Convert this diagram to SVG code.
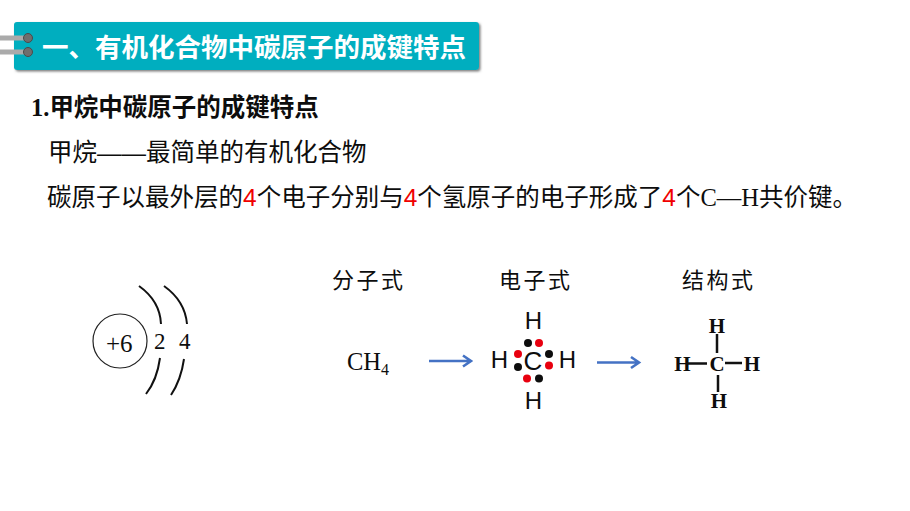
<svg xmlns="http://www.w3.org/2000/svg" width="910" height="511" viewBox="0 0 910 511">
<style>
.s{font-family:"Liberation Sans","Noto Sans CJK SC",sans-serif;fill:#0d0d0d}
.n{font-family:"Liberation Serif","Noto Sans CJK SC",serif;fill:#0d0d0d}
.r{fill:#f00000}
.b{font-weight:700}
.k{stroke:#111;fill:none;stroke-width:2}
.k2{stroke:#111;fill:none;stroke-width:2.5}
.ar{stroke:#4472c4;stroke-width:2.600;fill:none}
</style>
<defs><filter id="sh" x="-2%" y="-10%" width="104%" height="125%"><feDropShadow dx="1.500" dy="1.500" stdDeviation="1.200" flood-color="#666" flood-opacity=".85"/></filter></defs>
<g id="banner">
<rect x="14" y="22" width="465" height="48" rx="3" fill="#00aebf" filter="url(#sh)"/>
<path d="M0 38H28M0 52H28" stroke="#aaa" stroke-width="5" fill="none"/>
<circle cx="28" cy="38" r="4.500" fill="#6e6e6e" stroke="#4a4a4a" stroke-width="1"/>
<circle cx="28" cy="52" r="4.500" fill="#6e6e6e" stroke="#4a4a4a" stroke-width="1"/>
<text x="42" y="57" font-size="26.500" font-weight="700" fill="#fff" font-family="'Noto Sans CJK SC',sans-serif">一、有机化合物中碳原子的成键特点</text>
</g>
<g id="heading"><text x="31" y="116" font-size="24.500" class="n b">1.<tspan class="s b">甲烷中碳原子的成键特点</tspan></text></g>
<g id="line1"><text x="48" y="161" font-size="24.500" class="s">甲烷——最简单的有机化合物</text></g>
<g id="line2"><text x="47" y="206" font-size="24.500" class="s">碳原子以最外层的<tspan class="r">4</tspan>个电子分别与<tspan class="r">4</tspan>个氢原子的电子形成了<tspan class="r">4</tspan>个<tspan class="n">C—H</tspan>共价键。</text></g>
<g id="atom">
<circle cx="120" cy="341" r="27" fill="none" stroke="#222" stroke-width="1.200"/>
<text x="106" y="352" font-size="25" class="n">+6</text>
<text x="154" y="349" font-size="23" class="n">2</text>
<text x="179" y="349" font-size="23" class="n">4</text>
<path class="k" d="M139 286Q160 301 161 324M164 286Q185 301 187 324M160 358Q157 380 146 394M184 359Q181 380 171 395"/>
</g>
<g id="labels">
<text x="332" y="288" font-size="22" letter-spacing="2.500" class="s">分子式</text>
<text x="499" y="288" font-size="22" letter-spacing="2.500" class="s">电子式</text>
<text x="682" y="288" font-size="22" letter-spacing="2.500" class="s">结构式</text>
</g>
<g id="ch4"><text x="347" y="370" font-size="24.500" class="n">CH<tspan font-size="16" dy="5">4</tspan></text></g>
<g id="electron">
<g class="s" font-size="24" text-anchor="middle"><text x="533.500" y="329">H</text><text x="499.500" y="368">H</text><text x="567.500" y="368">H</text><text x="533.500" y="409">H</text><text x="533" y="370" font-size="26">C</text></g>
<g fill="#0d0d0d"><circle cx="528" cy="343" r="4"/><circle cx="549" cy="354" r="4"/><circle cx="518" cy="367" r="4"/><circle cx="539" cy="378.500" r="4"/></g>
<g fill="#e8000f"><circle cx="539" cy="343" r="4"/><circle cx="518" cy="354" r="4"/><circle cx="549" cy="365.500" r="4"/><circle cx="527" cy="378.500" r="4"/></g>
</g>
<g id="structural">
<g class="n b" font-size="21" text-anchor="middle"><text x="717" y="333">H</text><text x="682.500" y="371">H</text><text x="717" y="371">C</text><text x="752" y="370.500">H</text><text x="719" y="408">H</text></g>
<path class="k2" d="M717 334V353M688 363.500H707M725 363H742M718 375V392"/>
</g>
<g id="connectors">
<path class="ar" d="M429 361H470M463 355.500L471 361L463 366.500"/>
<path class="ar" d="M597 362.500H638M631 357L639 362.500L631 368"/>
</g>
</svg>
